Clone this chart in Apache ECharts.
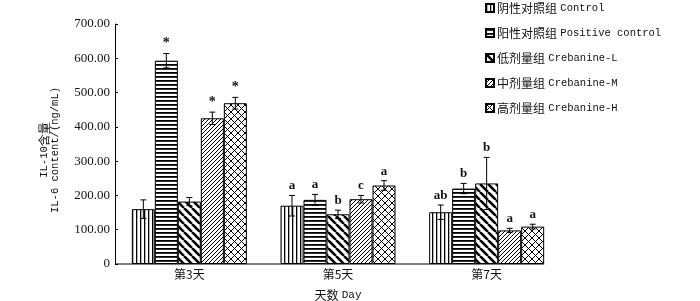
<!DOCTYPE html>
<html>
<head>
<meta charset="utf-8">
<script src="https://cdn.jsdelivr.net/npm/echarts@6/dist/echarts.min.js"></script>
<style>html,body{margin:0;padding:0;background:#fff;}#c{width:700px;height:301px;}</style>
</head>
<body>
<div id="c"></div>
<script>
const categories = ['第3天', '第5天', '第7天'];
const seriesNames = ['阴性对照组 Control', '阳性对照组 Positive control', '低剂量组 Crebanine-L', '中剂量组 Crebanine-M', '高剂量组 Crebanine-H'];
const controlValues = [160, 170, 151];
const positiveValues = [593, 187, 220];
const lowValues = [182, 145, 235];
const midValues = [425, 189, 98];
const highValues = [469, 229, 109];
const controlErr = [27, 30, 21];
const positiveErr = [21, 16, 15];
const lowErr = [12, 12, 76];
const midErr = [18, 11, 6];
const highErr = [17, 14, 7];
const controlMarks = ['', 'a', 'ab'];
const positiveMarks = ['*', 'a', 'b'];
const lowMarks = ['', 'b', 'b'];
const midMarks = ['*', 'c', 'a'];
const highMarks = ['*', 'a', 'a'];
const yTickLabels = ['0', '100.00', '200.00', '300.00', '400.00', '500.00', '600.00', '700.00'];

const allValues = [controlValues, positiveValues, lowValues, midValues, highValues];
const allErr = [controlErr, positiveErr, lowErr, midErr, highErr];
const allMarks = [controlMarks, positiveMarks, lowMarks, midMarks, highMarks];

const BAR_W = 23;
const SERIF = "'Liberation Serif', 'Noto Sans CJK SC', serif";
const MONO = "'Liberation Mono', monospace";
const CJK = "'Noto Sans CJK SC', sans-serif";

function mk(w, h, draw) {
  const cv = document.createElement('canvas');
  cv.width = w; cv.height = h;
  const ctx = cv.getContext('2d');
  ctx.fillStyle = '#fff'; ctx.fillRect(0, 0, w, h);
  ctx.strokeStyle = '#000'; ctx.fillStyle = '#000';
  draw(ctx, w, h);
  return { image: cv, repeat: 'repeat' };
}
const patterns = [
  mk(4, 4, (c) => { c.fillRect(0, 0, 1.3, 4); }),
  mk(4, 4, (c) => { c.fillRect(0, 0, 4, 1.8); }),
  mk(8, 8, (c, w, h) => { c.lineWidth = 2.6; for (let o = -8; o <= 8; o += 8) { c.beginPath(); c.moveTo(o, 0); c.lineTo(o + 8, 8); c.stroke(); } }),
  mk(4, 4, (c) => { c.lineWidth = 1; for (let o = -4; o <= 4; o += 4) { c.beginPath(); c.moveTo(o, 4); c.lineTo(o + 4, 0); c.stroke(); } }),
  mk(7, 7, (c) => { c.lineWidth = 1; for (let o = -7; o <= 7; o += 7) { c.beginPath(); c.moveTo(o, 0); c.lineTo(o + 7, 7); c.stroke(); c.beginPath(); c.moveTo(o, 7); c.lineTo(o + 7, 0); c.stroke(); } })
];

const barSeries = seriesNames.map((n, i) => ({
  name: n,
  type: 'bar',
  data: allValues[i],
  barWidth: BAR_W,
  barGap: '0%',
  itemStyle: { color: patterns[i], borderColor: '#000', borderWidth: 1 },
  emphasis: { disabled: true },
  z: 2
}));

const errData = [];
for (let s = 0; s < 5; s++) for (let k = 0; k < categories.length; k++) errData.push([k, s, allValues[s][k], allErr[s][k]]);

const errSeries = {
  type: 'custom',
  data: errData,
  encode: { x: 0, y: 2 },
  z: 5,
  silent: true,
  renderItem: function (params, api) {
    const k = api.value(0), s = api.value(1), v = api.value(2), e = api.value(3);
    const c = api.coord([k, v]);
    const t = api.coord([k, v + e]);
    const b = api.coord([k, v - e]);
    const x = c[0] + (s - 2) * BAR_W;
    const cap = 3;
    const ls = { stroke: '#000', lineWidth: 1 };
    const mark = allMarks[s][k];
    const children = [
      { type: 'line', shape: { x1: x, y1: t[1], x2: x, y2: b[1] }, style: ls },
      { type: 'line', shape: { x1: x - cap, y1: t[1], x2: x + cap, y2: t[1] }, style: ls },
      { type: 'line', shape: { x1: x - cap, y1: b[1], x2: x + cap, y2: b[1] }, style: ls }
    ];
    if (mark) children.push({ type: 'text', style: { text: mark, x: x, y: t[1] - 3, align: 'center', verticalAlign: 'bottom', font: (mark === '*' ? 'bold 14px ' : 'bold 13px ') + SERIF, fill: '#111' } });
    return { type: 'group', children: children };
  }
};

const baseSeries = {
  type: 'custom',
  data: [[0, 0]],
  encode: { x: 0, y: 1 },
  z: 6,
  silent: true,
  renderItem: function (params, api) {
    const c0 = api.coord([0, 0]);
    const cN = api.coord([categories.length - 1, 0]);
    const band = api.size([1, 0])[0];
    return { type: 'line', shape: { x1: c0[0] - band / 2, y1: c0[1], x2: cN[0] + 2.5 * BAR_W, y2: c0[1] }, style: { stroke: '#000', lineWidth: 1 } };
  }
};

const chart = echarts.init(document.getElementById('c'), null, { renderer: 'canvas' });
chart.setOption({
  animation: false,
  backgroundColor: '#fff',
  grid: { left: 115, right: 139, top: 24, bottom: 37, containLabel: false, outerBoundsMode: 'none' },
  legend: {
    data: seriesNames,
    orient: 'vertical',
    left: 480,
    top: 0,
    itemWidth: 8,
    itemHeight: 8,
    itemGap: 13,
    padding: [2, 5, 5, 5],
    icon: 'rect',
    selectedMode: false,
    formatter: function (name) {
      const i = name.indexOf(' ');
      return '{c|' + name.slice(0, i) + '} {e|' + name.slice(i + 1) + '}';
    },
    textStyle: {
      color: '#111',
      padding: [0, 0, 0, -2],
      rich: {
        c: { fontFamily: CJK, fontSize: 12, color: '#111' },
        e: { fontFamily: MONO, fontSize: 10.5, color: '#111' }
      }
    }
  },
  xAxis: {
    type: 'category',
    data: categories,
    axisLine: { show: false },
    axisTick: { show: false },
    axisLabel: { color: '#111', fontSize: 12, fontFamily: CJK, margin: 4 },
    name: '{c|天数} {e|Day}',
    nameLocation: 'middle',
    nameGap: 25,
    nameTextStyle: { color: '#111', rich: { c: { fontFamily: CJK, fontSize: 12, color: '#111' }, e: { fontFamily: MONO, fontSize: 11, color: '#111' } } }
  },
  yAxis: {
    type: 'value',
    min: 0,
    max: 700,
    interval: 100,
    axisLine: { show: true, lineStyle: { color: '#000', width: 1 } },
    axisTick: { show: true, inside: true, length: 3, lineStyle: { color: '#000' } },
    splitLine: { show: false },
    axisLabel: { color: '#111', fontSize: 13, fontFamily: SERIF, margin: 5, formatter: (v) => yTickLabels[Math.round(v / 100)] },
    name: '{e|IL-10}{c|含量}\n{e|IL-6 content/(ng/mL)}',
    nameLocation: 'middle',
    nameRotate: 90,
    nameGap: 54,
    nameTextStyle: { color: '#111', lineHeight: 11, padding: [0, 12, 0, 0], rich: { c: { fontFamily: CJK, fontSize: 12, color: '#111', lineHeight: 11 }, e: { fontFamily: MONO, fontSize: 10.5, color: '#111', lineHeight: 11 } } }
  },
  series: barSeries.concat([errSeries, baseSeries])
});
</script>
</body>
</html>
